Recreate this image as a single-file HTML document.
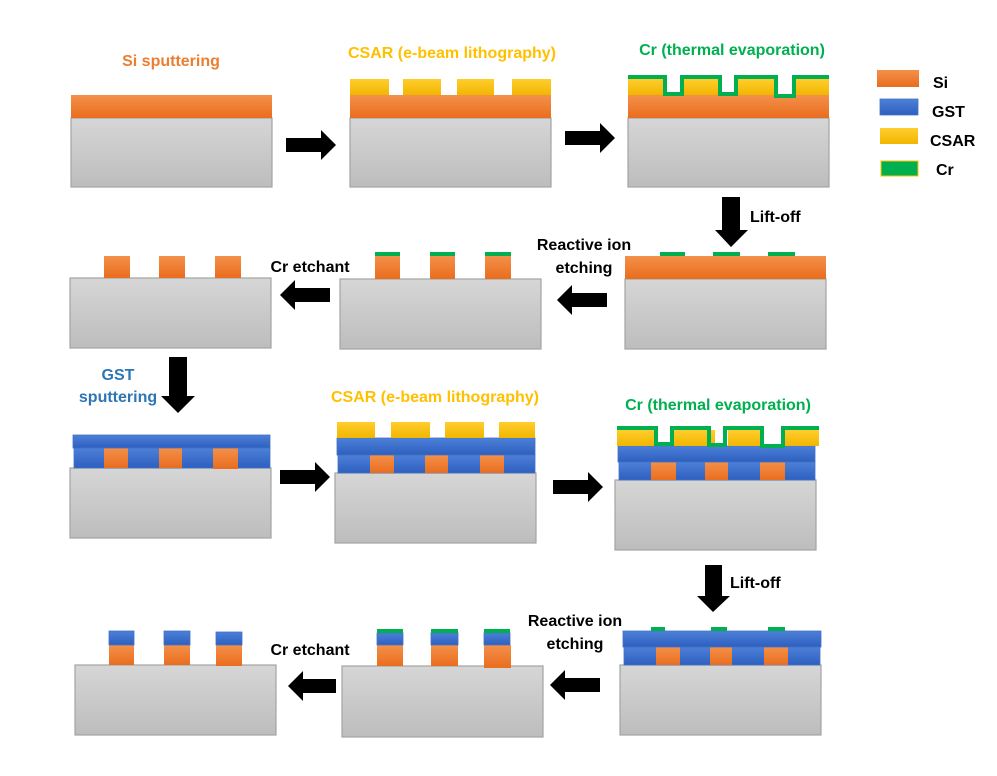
<!DOCTYPE html>
<html><head><meta charset="utf-8"><style>
body{margin:0;background:#fff}
svg{display:block}
text{font-family:"Liberation Sans",sans-serif;font-weight:bold}
</style></head><body>
<svg width="997" height="776" viewBox="0 0 997 776" xmlns="http://www.w3.org/2000/svg">
<defs>
<linearGradient id="g" x1="0" y1="0" x2="0" y2="1"><stop offset="0" stop-color="#d6d6d6"/><stop offset="1" stop-color="#bdbdbd"/></linearGradient>
<linearGradient id="o" x1="0" y1="0" x2="0" y2="1"><stop offset="0" stop-color="#f4904a"/><stop offset="1" stop-color="#e96d1e"/></linearGradient>
<linearGradient id="b" x1="0" y1="0" x2="0" y2="1"><stop offset="0" stop-color="#4d80d8"/><stop offset="1" stop-color="#2d5fbf"/></linearGradient>
<linearGradient id="y" x1="0" y1="0" x2="0" y2="1"><stop offset="0" stop-color="#ffcd2e"/><stop offset="1" stop-color="#f2b600"/></linearGradient>
</defs>
<style>
.s{fill:url(#g);stroke:#a3a3a3;stroke-width:1.2}
.o{fill:url(#o)}
.b{fill:url(#b);stroke:#4472c4;stroke-width:0.8}
.y{fill:url(#y)}
.c{fill:#00b050}
.cr{fill:none;stroke:#00b050;stroke-width:4}
.t{font-size:16px}
</style>

<text x="171" y="66" text-anchor="middle" fill="#ed7d31" class="t">Si sputtering</text>
<text x="452" y="58" text-anchor="middle" fill="#ffc000" class="t">CSAR (e-beam lithography)</text>
<text x="732" y="55" text-anchor="middle" fill="#00b050" class="t">Cr (thermal evaporation)</text>
<text x="435" y="402" text-anchor="middle" fill="#ffc000" class="t">CSAR (e-beam lithography)</text>
<text x="718" y="410" text-anchor="middle" fill="#00b050" class="t">Cr (thermal evaporation)</text>
<text x="118" y="380" text-anchor="middle" fill="#2e75b6" class="t">GST</text>
<text x="118" y="402" text-anchor="middle" fill="#2e75b6" class="t">sputtering</text>

<text x="750" y="222" fill="#000" class="t">Lift-off</text>
<text x="584" y="250" text-anchor="middle" fill="#000" class="t">Reactive ion</text>
<text x="584" y="273" text-anchor="middle" fill="#000" class="t">etching</text>
<text x="310" y="272" text-anchor="middle" fill="#000" class="t">Cr etchant</text>
<text x="730" y="588" fill="#000" class="t">Lift-off</text>
<text x="575" y="626" text-anchor="middle" fill="#000" class="t">Reactive ion</text>
<text x="575" y="649" text-anchor="middle" fill="#000" class="t">etching</text>
<text x="310" y="655" text-anchor="middle" fill="#000" class="t">Cr etchant</text>

<rect x="877" y="70" width="42" height="17" class="o"/>
<rect x="880" y="99" width="38" height="16" class="b"/>
<rect x="880" y="128" width="38" height="16" class="y"/>
<rect x="881" y="161" width="37" height="15" class="c" stroke="#ffc000" stroke-width="1"/>
<text x="933" y="88" class="t">Si</text>
<text x="932" y="117" class="t">GST</text>
<text x="930" y="146" class="t">CSAR</text>
<text x="936" y="175" class="t">Cr</text>

<rect x="71" y="118" width="201" height="69" class="s"/>
<rect x="71" y="95" width="201" height="23" class="o"/>
<rect x="350" y="118" width="201" height="69" class="s"/>
<rect x="350" y="95" width="201" height="23" class="o"/>
<rect x="350" y="79" width="39" height="16" class="y"/>
<rect x="403" y="79" width="38" height="16" class="y"/>
<rect x="457" y="79" width="37" height="16" class="y"/>
<rect x="512" y="79" width="39" height="16" class="y"/>
<rect x="628" y="118" width="201" height="69" class="s"/>
<rect x="628" y="95" width="201" height="23" class="o"/>
<rect x="628" y="79" width="35" height="16" class="y"/>
<rect x="684" y="79" width="34" height="16" class="y"/>
<rect x="738" y="79" width="36" height="16" class="y"/>
<rect x="796" y="79" width="33" height="16" class="y"/>
<polyline class="cr" points="628,77 665,77 665,94 682,94 682,77 720,77 720,94 736,94 736,77 776,77 776,96 794,96 794,77 829,77"/>

<polygon points="286,138 321,138 321,130 336,145 321,160 321,152 286,152"/>
<polygon points="565,131 600,131 600,123 615,138 600,153 600,145 565,145"/>
<polygon points="722,197 740,197 740,230 748,230 731,247 715,230 722,230"/>

<rect x="625" y="279" width="201" height="70" class="s"/>
<rect x="625" y="256" width="201" height="23" class="o"/>
<rect x="660" y="252" width="25" height="4" class="c"/>
<rect x="713" y="252" width="27" height="4" class="c"/>
<rect x="768" y="252" width="27" height="4" class="c"/>
<rect x="340" y="279" width="201" height="70" class="s"/>
<rect x="375" y="256" width="25" height="23" class="o"/>
<rect x="430" y="256" width="25" height="23" class="o"/>
<rect x="485" y="256" width="26" height="23" class="o"/>
<rect x="375" y="252" width="25" height="4" class="c"/>
<rect x="430" y="252" width="25" height="4" class="c"/>
<rect x="485" y="252" width="26" height="4" class="c"/>
<rect x="70" y="278" width="201" height="70" class="s"/>
<rect x="104" y="256" width="26" height="22" class="o"/>
<rect x="159" y="256" width="26" height="22" class="o"/>
<rect x="215" y="256" width="26" height="22" class="o"/>
<polygon points="607,293 572,293 572,285 557,300 572,315 572,307 607,307"/>
<polygon points="330,288 295,288 295,280 280,295 295,310 295,302 330,302"/>
<polygon points="169,357 187,357 187,396 195,396 178,413 161,396 169,396"/>

<rect x="70" y="468" width="201" height="70" class="s"/>
<rect x="74" y="448" width="196" height="20" class="b"/>
<rect x="104" y="448" width="24" height="20" class="o"/>
<rect x="159" y="448" width="23" height="20" class="o"/>
<rect x="213" y="448" width="25" height="21" class="o"/>
<rect x="73" y="435" width="197" height="13" class="b"/>
<rect x="335" y="473" width="201" height="70" class="s"/>
<rect x="338" y="455" width="197" height="18" class="b"/>
<rect x="370" y="455" width="24" height="18" class="o"/>
<rect x="425" y="455" width="23" height="18" class="o"/>
<rect x="480" y="455" width="24" height="18" class="o"/>
<rect x="337" y="438" width="198" height="17" class="b"/>
<rect x="337" y="422" width="38" height="16" class="y"/>
<rect x="391" y="422" width="39" height="16" class="y"/>
<rect x="445" y="422" width="39" height="16" class="y"/>
<rect x="499" y="422" width="36" height="16" class="y"/>
<rect x="615" y="480" width="201" height="70" class="s"/>
<rect x="619" y="462" width="196" height="18" class="b"/>
<rect x="651" y="462" width="25" height="18" class="o"/>
<rect x="705" y="462" width="23" height="18" class="o"/>
<rect x="760" y="462" width="25" height="18" class="o"/>
<rect x="618" y="446" width="197" height="16" class="b"/>
<rect x="617" y="430" width="37" height="16" class="y"/>
<rect x="674" y="430" width="41" height="16" class="y"/>
<rect x="728" y="430" width="33" height="16" class="y"/>
<rect x="785" y="430" width="34" height="16" class="y"/>
<polyline class="cr" points="617,428 656,428 656,444 672,444 672,428 709,428 709,445 725,445 725,428 762,428 762,446 783,446 783,428 819,428"/>
<polygon points="280,470 315,470 315,462 330,477 315,492 315,484 280,484"/>
<polygon points="553,480 588,480 588,472 603,487 588,502 588,494 553,494"/>
<polygon points="705,565 722,565 722,596 730,596 713,612 697,596 705,596"/>

<rect x="620" y="665" width="201" height="70" class="s"/>
<rect x="624" y="647" width="196" height="18" class="b"/>
<rect x="656" y="647" width="24" height="18" class="o"/>
<rect x="710" y="647" width="22" height="18" class="o"/>
<rect x="764" y="647" width="24" height="18" class="o"/>
<rect x="623" y="631" width="198" height="16" class="b"/>
<rect x="651" y="627" width="14" height="4" class="c"/>
<rect x="711" y="627" width="16" height="4" class="c"/>
<rect x="768" y="627" width="17" height="4" class="c"/>
<rect x="342" y="666" width="201" height="71" class="s"/>
<rect x="377" y="645" width="26" height="21" class="o"/>
<rect x="431" y="645" width="27" height="21" class="o"/>
<rect x="484" y="645" width="27" height="23" class="o"/>
<rect x="377" y="633" width="26" height="12" class="b"/>
<rect x="431" y="633" width="27" height="12" class="b"/>
<rect x="484" y="633" width="26" height="12" class="b"/>
<rect x="377" y="629" width="26" height="4" class="c"/>
<rect x="431" y="629" width="27" height="4" class="c"/>
<rect x="484" y="629" width="26" height="4" class="c"/>
<rect x="75" y="665" width="201" height="70" class="s"/>
<rect x="109" y="645" width="25" height="20" class="o"/>
<rect x="164" y="645" width="26" height="20" class="o"/>
<rect x="216" y="645" width="26" height="21" class="o"/>
<rect x="109" y="631" width="25" height="14" class="b"/>
<rect x="164" y="631" width="26" height="14" class="b"/>
<rect x="216" y="632" width="26" height="13" class="b"/>
<polygon points="600,678 565,678 565,670 550,685 565,700 565,692 600,692"/>
<polygon points="336,679 303,679 303,671 288,686 303,701 303,693 336,693"/>
</svg>
</body></html>
